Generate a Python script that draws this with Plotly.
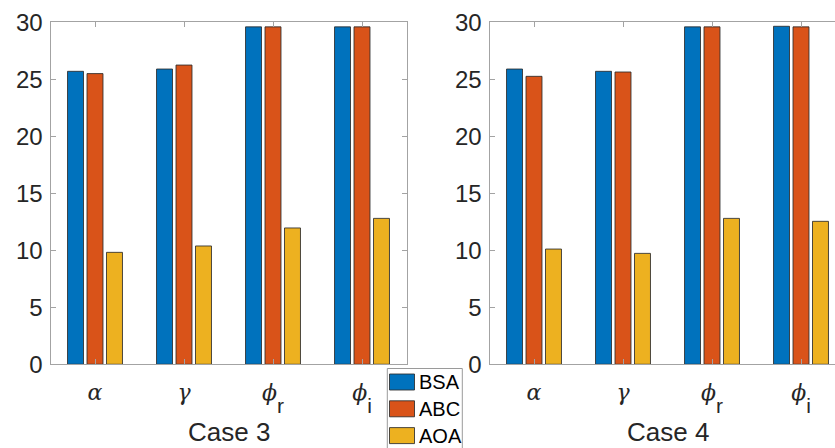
import plotly.graph_objects as go

# Parameters compared in each case (tick labels) and the three algorithms
SUB = '<span style="font-size:64px"><sub><span style="font-family:Liberation Sans;font-size:21px">{}</span></sub></span>'
params = ['<i>α</i>', '<i>γ</i>', '<i>ϕ</i>' + SUB.format('r'), '<i>ϕ</i>' + SUB.format('i')]
methods = ['BSA', 'ABC', 'AOA']
colors = ['#0072BD', '#D95319', '#EDB120']

case3_bsa = [25.7, 25.9, 29.6, 29.6]
case3_abc = [25.5, 26.25, 29.6, 29.6]
case3_aoa = [9.82, 10.38, 11.96, 12.8]

case4_bsa = [25.9, 25.7, 29.6, 29.65]
case4_abc = [25.26, 25.64, 29.6, 29.6]
case4_aoa = [10.11, 9.73, 12.8, 12.54]

case_titles = ['Case 3', 'Case 4']
y_ticks = [0, 5, 10, 15, 20, 25, 30]

W, H = 835, 448
edge = 'rgba(45,45,45,0.85)'
axis_col = '#a3a3a3'
text_col = '#262626'

fig = go.Figure()
for (vals, xa, ya) in [((case3_bsa, case3_abc, case3_aoa), 'x', 'y'),
                       ((case4_bsa, case4_abc, case4_aoa), 'x2', 'y2')]:
    for name, v, c in zip(methods, vals, colors):
        fig.add_trace(go.Bar(x=params, y=v, name=name, xaxis=xa, yaxis=ya,
                             marker=dict(color=c, line=dict(color=edge, width=1)),
                             showlegend=False))

ydom = [(H - 364.3) / H, (H - 22.3) / H]
common_x = dict(type='category', showline=True, linecolor=axis_col, linewidth=1,
                ticks='inside', ticklen=5, tickcolor=axis_col, mirror='ticks',
                tickfont=dict(family='DejaVu Serif', size=22, color=text_col),
                ticklabelstandoff=8, automargin=False, showgrid=False, zeroline=False)
common_y = dict(range=[0, 30], tickvals=y_ticks, showline=True, linecolor=axis_col,
                linewidth=1, ticks='inside', ticklen=5, tickcolor=axis_col,
                tickfont=dict(family='Liberation Sans', size=24, color=text_col),
                ticklabelstandoff=2,
                automargin=False, showgrid=False, zeroline=False, domain=ydom)

fig.update_layout(
    width=W, height=H, margin=dict(l=0, r=0, t=0, b=0),
    paper_bgcolor='white', plot_bgcolor='white',
    barmode='group', bargap=0.343, bargroupgap=0.18,
    xaxis=dict(domain=[50.5 / W, 406.5 / W], range=[-0.5, 3.5], anchor='y', **common_x),
    yaxis=dict(anchor='x', mirror='ticks', **common_y),
    xaxis2=dict(domain=[489.5 / W, 1.0], range=[-0.5, -0.5 + (W - 489.5) / 89.0],
                anchor='y2', **common_x),
    yaxis2=dict(anchor='x2', mirror=False, **common_y),
)

# Case titles centred under each group of categories
for xr, t in zip(['x', 'x2'], case_titles):
    fig.add_annotation(x=1.5, xref=xr, y=(H - 432) / H, yref='paper', text=t,
                       showarrow=False, xanchor='center', yanchor='middle',
                       font=dict(family='Liberation Sans', size=26, color=text_col))

# Legend box with wide swatches
lx0, lx1, ly0 = 387.3, 462.3, 368.5
fig.add_shape(type='rect', xref='paper', yref='paper',
              x0=lx0 / W, x1=lx1 / W, y0=(H - ly0) / H, y1=-0.05,
              line=dict(color='#9a9a9a', width=1), fillcolor='white', layer='above')
for i, (name, c) in enumerate(zip(methods, colors)):
    cy = 382 + i * 26.8
    fig.add_shape(type='rect', xref='paper', yref='paper',
                  x0=389.5 / W, x1=414.5 / W, y0=(H - cy - 8) / H, y1=(H - cy + 8) / H,
                  line=dict(color=edge, width=1), fillcolor=c, layer='above')
    fig.add_annotation(x=416.5 / W, y=(H - cy) / H, xref='paper', yref='paper',
                       text=name, showarrow=False, xanchor='left', yanchor='middle',
                       font=dict(family='Liberation Sans', size=20, color='black'))

fig.write_html('out.html')
